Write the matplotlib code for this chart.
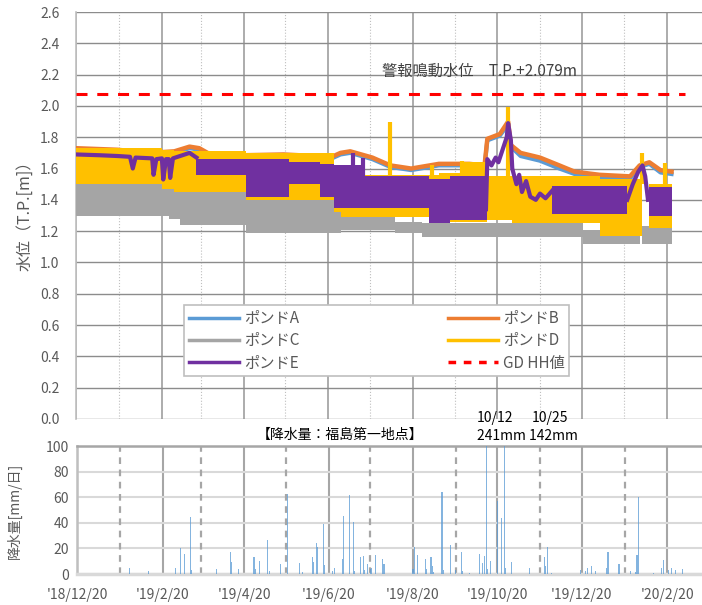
import numpy as np
import pandas as pd
import matplotlib
matplotlib.use("Agg")
import matplotlib.pyplot as plt
from matplotlib.lines import Line2D

plt.rcParams['font.family'] = ['Noto Sans CJK JP', 'DejaVu Sans']

# pond A / B water level (T.P. m)
ab_dates = ['2018-12-20', '2019-01-19', '2019-02-11', '2019-03-01', '2019-03-12', '2019-03-19',
            '2019-03-27', '2019-04-20', '2019-05-19', '2019-06-10', '2019-06-19', '2019-06-29',
            '2019-07-06', '2019-07-22', '2019-08-04', '2019-08-19', '2019-09-08', '2019-09-30',
            '2019-10-11', '2019-10-13', '2019-10-22', '2019-10-28', '2019-10-30', '2019-11-06',
            '2019-11-20', '2019-12-04', '2019-12-15', '2020-01-02', '2020-01-24', '2020-01-31',
            '2020-02-07', '2020-02-15', '2020-02-23']
pond_b = [1.73, 1.72, 1.70, 1.71, 1.74, 1.73, 1.69, 1.685, 1.69, 1.68, 1.66, 1.70, 1.71, 1.67,
          1.62, 1.60, 1.63, 1.63, 1.62, 1.79, 1.82, 1.90, 1.75, 1.70, 1.67, 1.62, 1.58, 1.56,
          1.55, 1.62, 1.64, 1.59, 1.58]
pond_a = [1.72, 1.71, 1.69, 1.70, 1.73, 1.72, 1.68, 1.675, 1.68, 1.67, 1.65, 1.69, 1.70, 1.66,
          1.61, 1.59, 1.62, 1.62, 1.61, 1.78, 1.81, 1.88, 1.74, 1.68, 1.65, 1.60, 1.565, 1.545,
          1.535, 1.61, 1.63, 1.575, 1.565]

# pond C band (upper / lower of the daily swing); equal values = no data
c_dates = ['2018-12-20', '2019-02-25', '2019-03-05', '2019-04-22', '2019-06-24', '2019-06-29',
           '2019-08-07', '2019-08-27', '2019-12-21', '2020-01-31', '2020-02-02', '2020-02-23']
c_hi = [1.50, 1.48, 1.48, 1.40, 1.33, 1.29, 1.26, 1.25, 1.21, 1.20, 1.23, 1.23]
c_lo = [1.30, 1.28, 1.24, 1.19, 1.19, 1.21, 1.19, 1.16, 1.12, 1.20, 1.12, 1.12]

# pond D band
d_dates = ['2018-12-20', '2019-02-20', '2019-03-01', '2019-04-22', '2019-06-24', '2019-06-29',
           '2019-09-08', '2019-09-25', '2019-10-13', '2019-10-31', '2020-01-02', '2020-02-02',
           '2020-02-07', '2020-02-23']
d_hi = [1.73, 1.72, 1.71, 1.70, 1.62, 1.56, 1.57, 1.64, 1.55, 1.555, 1.53, 1.30, 1.50, 1.50]
d_lo = [1.50, 1.47, 1.45, 1.40, 1.32, 1.29, 1.26, 1.26, 1.27, 1.25, 1.17, 1.30, 1.22, 1.22]
d_spike_dates = ['2019-08-04', '2019-09-03', '2019-09-25', '2019-10-28', '2020-02-02', '2020-02-18']
d_spike_top = [1.90, 1.62, 1.65, 1.99, 1.70, 1.635]

# pond E: thin line at start, bands, and line sections
e1_dates = ['2018-12-20', '2019-01-06', '2019-01-19', '2019-01-28', '2019-01-30', '2019-02-01',
            '2019-02-13', '2019-02-14', '2019-02-16', '2019-02-20', '2019-02-21', '2019-02-23',
            '2019-02-25', '2019-02-26', '2019-02-28', '2019-03-12', '2019-03-17']
e1_vals = [1.69, 1.685, 1.68, 1.675, 1.60, 1.67, 1.665, 1.56, 1.66, 1.665, 1.53, 1.66,
           1.66, 1.54, 1.665, 1.70, 1.67]
e_dates = ['2019-03-17', '2019-04-22', '2019-05-23', '2019-06-14', '2019-06-24', '2019-07-15',
           '2019-09-01', '2019-09-16', '2019-10-13', '2019-11-29', '2020-01-22', '2020-02-07',
           '2020-02-23']
e_hi = [1.66, 1.66, 1.64, 1.63, 1.62, 1.55, 1.53, 1.55, 1.40, 1.49, 1.40, 1.48, 1.48]
e_lo = [1.56, 1.42, 1.50, 1.42, 1.35, 1.35, 1.25, 1.27, 1.40, 1.31, 1.40, 1.30, 1.30]
e2_dates = ['2019-10-12', '2019-10-13', '2019-10-16', '2019-10-19', '2019-10-21', '2019-10-24',
            '2019-10-27', '2019-10-28', '2019-10-30', '2019-10-31', '2019-11-03', '2019-11-05',
            '2019-11-07', '2019-11-10', '2019-11-13', '2019-11-17', '2019-11-20', '2019-11-24',
            '2019-11-29']
e2_vals = [1.34, 1.66, 1.62, 1.67, 1.64, 1.72, 1.80, 1.89, 1.78, 1.60, 1.50, 1.56, 1.45, 1.52,
           1.42, 1.40, 1.44, 1.41, 1.46]
e3_dates = ['2020-01-22', '2020-01-26', '2020-01-30', '2020-02-02', '2020-02-04', '2020-02-06']
e3_vals = [1.40, 1.50, 1.58, 1.62, 1.55, 1.40]
e_spike_dates = ['2019-07-08', '2019-07-15']
e_spike_top = [1.70, 1.67]

gd_hh = 2.079

# daily rainfall (mm/day) at Fukushima Daiichi
rain_dates = ['2019-01-27', '2019-02-10', '2019-03-01', '2019-03-05', '2019-03-08', '2019-03-12',
              '2019-03-13', '2019-03-31', '2019-04-10', '2019-04-11', '2019-04-16', '2019-04-27',
              '2019-04-28', '2019-05-01', '2019-05-07', '2019-05-08', '2019-05-16', '2019-05-21',
              '2019-05-30', '2019-06-01', '2019-06-08', '2019-06-09', '2019-06-11', '2019-06-12',
              '2019-06-16', '2019-06-17', '2019-06-23', '2019-06-24', '2019-06-30', '2019-07-01',
              '2019-07-05', '2019-07-08', '2019-07-09', '2019-07-13', '2019-07-15', '2019-07-16',
              '2019-07-18', '2019-07-20', '2019-07-21', '2019-07-24', '2019-07-29', '2019-07-30',
              '2019-08-20', '2019-08-21', '2019-08-23', '2019-08-29', '2019-08-30', '2019-09-02',
              '2019-09-03', '2019-09-04', '2019-09-10', '2019-09-11', '2019-09-16', '2019-09-20',
              '2019-09-24', '2019-09-25', '2019-09-30', '2019-10-07', '2019-10-09', '2019-10-11',
              '2019-10-12', '2019-10-13', '2019-10-15', '2019-10-20', '2019-10-23', '2019-10-25',
              '2019-10-26', '2019-10-30', '2019-11-12', '2019-11-23', '2019-11-24', '2019-11-25',
              '2019-11-28', '2019-12-19', '2019-12-23', '2019-12-24', '2019-12-27', '2019-12-30',
              '2020-01-07', '2020-01-08', '2020-01-16', '2020-01-24', '2020-01-28', '2020-01-29',
              '2020-01-30', '2020-02-10', '2020-02-16', '2020-02-17', '2020-02-21', '2020-02-23',
              '2020-02-26', '2020-03-02']
rain_mm = [5, 2, 4.5, 20.5, 15.5, 44.5, 3, 3.6, 17.5, 9.6, 4, 13.5, 4, 10.4, 26.6, 2.5, 7.8, 62.5,
           8.3, 1.5, 13, 9.6, 24, 21.4, 39, 7, 2, 4.5, 11.5, 45.3, 61.7, 40.4, 2, 13, 14.4, 3,
           7.8, 3.6, 4.5, 14.8, 11.7, 7.5, 4, 21, 14.8, 11.7, 3.6, 13.3, 6, 1.5, 64, 3, 23, 3,
           17, 2, 1, 16, 8.6, 14, 241, 4, 10, 57, 43.5, 142, 5, 9, 4.5, 13.5, 6, 21.4, 1, 3, 2,
           5, 6, 2, 5, 17, 7.5, 2, 1.5, 15, 60.3, 1, 5, 11, 3, 5, 3, 4]

major_dates = ['2018-12-20', '2019-02-20', '2019-04-20', '2019-06-20', '2019-08-20',
               '2019-10-20', '2019-12-20', '2020-02-20']
major_labels = ["'18/12/20", "'19/2/20", "'19/4/20", "'19/6/20", "'19/8/20",
                "'19/10/20", "'19/12/20", "'20/2/20"]
minor_dates = ['2019-01-20', '2019-03-20', '2019-05-20', '2019-07-20', '2019-09-20',
               '2019-11-20', '2020-01-20']

x0 = pd.Timestamp('2018-12-20')
x1 = pd.Timestamp('2020-03-16')
tick_col = '#595959'
td = pd.to_datetime

fig = plt.figure(figsize=(7.02, 6.05), dpi=100)
ax = fig.add_axes([76 / 702, 1 - 419 / 605, 626 / 702, 407 / 605])
ax2 = fig.add_axes([77 / 702, 1 - 574 / 605, 625 / 702, 128 / 605])

# ---- water level panel
ax.plot(td(ab_dates), pond_a, color='#5B9BD5', lw=3, zorder=3)
ax.plot(td(ab_dates), pond_b, color='#ED7D31', lw=3.2, zorder=3.1)
ax.fill_between(td(c_dates), c_lo, c_hi, step='post', color='#A5A5A5', lw=0, zorder=3.2)
ax.fill_between(td(d_dates), d_lo, d_hi, step='post', color='#FFC000', lw=0, zorder=3.3)
ax.vlines(td(d_spike_dates), 1.5, d_spike_top, color='#FFC000', lw=3, zorder=3.3)
ax.plot(td(e1_dates), e1_vals, color='#7030A0', lw=3, zorder=3.4)
ax.fill_between(td(e_dates), e_lo, e_hi, step='post', color='#7030A0', lw=0, zorder=3.4)
ax.plot(td(e2_dates), e2_vals, color='#7030A0', lw=3, zorder=3.4)
ax.plot(td(e3_dates), e3_vals, color='#7030A0', lw=3, zorder=3.4)
ax.vlines(td(e_spike_dates), 1.5, e_spike_top, color='#7030A0', lw=3, zorder=3.4)
ax.plot([x0, pd.Timestamp('2020-03-04')], [gd_hh, gd_hh], color='#FF0000', lw=2.2,
        dashes=(3.6, 3.2), zorder=3.5)

ax.set_xlim(x0, x1)
ax.set_ylim(0, 2.6)
yt = np.arange(0, 2.61, 0.2)
ax.set_yticks(yt)
ax.set_yticklabels(['%.1f' % v for v in yt])
ax.set_xticks(td(major_dates))
ax.set_xticks(td(minor_dates), minor=True)
ax.set_xticklabels([])
ax.tick_params(axis='both', which='both', length=0, labelsize=10, labelcolor=tick_col)
ax.tick_params(axis='y', pad=12)
ax.grid(axis='y', color='#8c8c8c', lw=1.0)
ax.grid(axis='x', which='major', color='#a6a6a6', lw=1.3)
ax.grid(axis='x', which='minor', color='#bfbfbf', lw=0.8, ls=':')
ax.set_axisbelow(True)
for s in ['top', 'right', 'bottom']:
    ax.spines[s].set_visible(False)
ax.spines['left'].set_color('#bfbfbf')
ax.spines['left'].set_linewidth(1.2)

ax.text(0.645, 0.853, '警報鳴動水位　T.P.+2.079m', transform=ax.transAxes,
        ha='center', va='center', fontsize=11, color='#404040')

# legend filled row by row like the original (A B / C D / E HH)
h = {'A': Line2D([], [], color='#5B9BD5', lw=2.5), 'B': Line2D([], [], color='#ED7D31', lw=2.5),
     'C': Line2D([], [], color='#A5A5A5', lw=2.5), 'D': Line2D([], [], color='#FFC000', lw=2.5),
     'E': Line2D([], [], color='#7030A0', lw=2.5),
     'HH': Line2D([], [], color='#FF0000', lw=2.5, dashes=(2.2, 2.2))}
order = [('A', 'ポンドA'), ('C', 'ポンドC'), ('E', 'ポンドE'),
         ('B', 'ポンドB'), ('D', 'ポンドD'), ('HH', 'GD HH値')]
leg = ax.legend([h[k] for k, _ in order], [t for _, t in order], ncol=2, loc='lower left',
                mode='expand', bbox_to_anchor=(0.161, 0.086, 0.639, 0.167), fontsize=11,
                frameon=True, fancybox=False, framealpha=1, edgecolor='#bfbfbf',
                handlelength=3.3, handletextpad=0.3, labelspacing=0.35,
                borderpad=0.3, labelcolor='#595959', columnspacing=1.0)
leg.get_frame().set_linewidth(1.2)
leg.set_zorder(10)

fig.text(25 / 702, 1 - 212 / 605, '水位（T.P.[m]）', rotation=90, ha='center', va='center',
         fontsize=11.5, color=tick_col)

# ---- rainfall panel
ax2.bar(td(rain_dates), rain_mm, width=0.8, color='#5B9BD5', alpha=0.75, lw=0, zorder=3)
ax2.set_xlim(x0, x1)
ax2.set_ylim(0, 100)
ax2.set_yticks(np.arange(0, 101, 20))
ax2.set_xticks(td(major_dates))
ax2.set_xticklabels(major_labels)
ax2.tick_params(axis='both', length=0, labelsize=10, labelcolor=tick_col)
ax2.tick_params(axis='x', pad=10)
ax2.tick_params(axis='y', pad=6)
ax2.grid(axis='y', color='#d9d9d9', lw=1.5)
ax2.grid(axis='x', color='#a6a6a6', lw=1.5)
for d in minor_dates:
    ax2.axvline(pd.Timestamp(d), color='#a6a6a6', lw=1.6, ls=(0, (3, 2.5)), zorder=2)
ax2.set_axisbelow(True)
ax2.spines['right'].set_visible(False)
ax2.spines['top'].set_color('#a6a6a6')
ax2.spines['top'].set_linewidth(1.8)
ax2.spines['left'].set_color('#bfbfbf')
ax2.spines['left'].set_linewidth(1.8)
ax2.spines['bottom'].set_color('#d9d9d9')
ax2.spines['bottom'].set_linewidth(2.5)

fig.text(14 / 702, 1 - 511 / 605, '降水量[mm/日]', rotation=90, ha='center', va='center',
         fontsize=10, color=tick_col)
fig.text(340 / 702, 1 - 435 / 605, '【降水量：福島第一地点】', ha='center', va='center',
         fontsize=10, color='black')
fig.text(495 / 702, 1 - 418 / 605, '10/12', ha='center', va='center', fontsize=10, color='black')
fig.text(550 / 702, 1 - 418 / 605, '10/25', ha='center', va='center', fontsize=10, color='black')
fig.text(527 / 702, 1 - 436 / 605, '241mm 142mm', ha='center', va='center', fontsize=10,
         color='black')

fig.savefig('out.png', dpi=100)
